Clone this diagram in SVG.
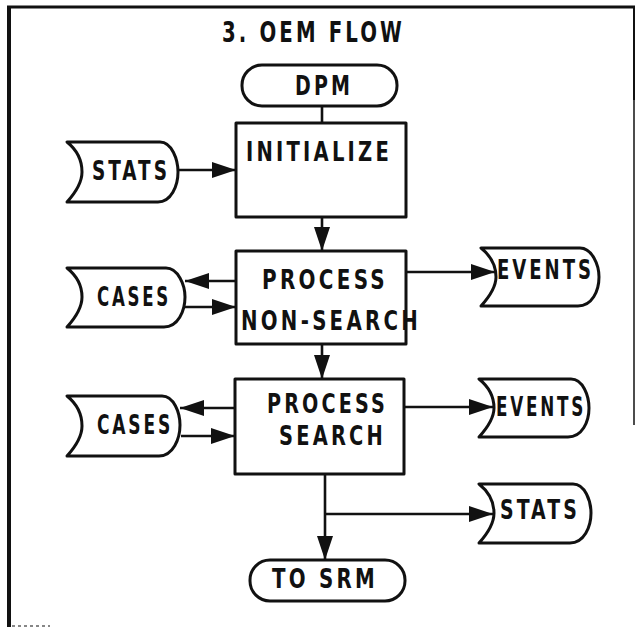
<svg xmlns="http://www.w3.org/2000/svg" width="636" height="628" viewBox="0 0 636 628">
  <style>
    .frame { fill: none; stroke: #111; }
    .shape { fill: #fff; stroke: #111; stroke-width: 3; stroke-linejoin: round; }
    .conn { fill: none; stroke: #111; stroke-width: 2.6; }
    .lbl { font-family: "Liberation Sans Narrow", "DejaVu Sans Condensed", "Liberation Sans", sans-serif; font-weight: bold; font-size: 27px; letter-spacing: 4px; fill: #111; }
    .title { font-size: 28px; }
  </style>
  <defs>
    <marker id="ah" viewBox="0 0 24 16" refX="24" refY="8" markerWidth="24" markerHeight="16" markerUnits="userSpaceOnUse" orient="auto">
      <path d="M0,0 L24,8 L0,16 Z" fill="#111"/>
    </marker>
  </defs>

  <rect width="636" height="628" fill="#fff"/>

  <!-- page frame -->
  <g id="frame">
    <line class="frame" x1="9" y1="6" x2="9" y2="627" stroke-width="4"/>
    <line class="frame" x1="7" y1="7" x2="635" y2="7" stroke-width="3"/>
    <line class="frame" x1="634" y1="6" x2="634" y2="100" stroke-width="2"/>
    <line class="frame" x1="634" y1="100" x2="634" y2="425" stroke="#999" stroke-width="1.5"/>
    <line class="frame" x1="12" y1="626" x2="50" y2="626" stroke="#999" stroke-width="1.2" stroke-dasharray="3 3"/>
  </g>

  <text class="lbl title" x="222" y="42" textLength="183" lengthAdjust="spacingAndGlyphs">3. OEM FLOW</text>

  <!-- connectors -->
  <g id="connectors">
    <line class="conn" x1="322" y1="106" x2="322" y2="123"/>
    <line class="conn" x1="178" y1="170" x2="236" y2="170" marker-end="url(#ah)"/>
    <line class="conn" x1="322" y1="217" x2="322" y2="251" marker-end="url(#ah)"/>
    <line class="conn" x1="236" y1="281" x2="185" y2="281" marker-end="url(#ah)"/>
    <line class="conn" x1="184" y1="307" x2="236" y2="307" marker-end="url(#ah)"/>
    <line class="conn" x1="406" y1="272" x2="495" y2="272" marker-end="url(#ah)"/>
    <line class="conn" x1="322" y1="344" x2="322" y2="379" marker-end="url(#ah)"/>
    <line class="conn" x1="235" y1="408" x2="180" y2="408" marker-end="url(#ah)"/>
    <line class="conn" x1="181" y1="436" x2="235" y2="436" marker-end="url(#ah)"/>
    <line class="conn" x1="404" y1="407" x2="493" y2="407" marker-end="url(#ah)"/>
    <line class="conn" x1="325" y1="474" x2="325" y2="560" marker-end="url(#ah)"/>
    <line class="conn" x1="325" y1="514" x2="493" y2="514" marker-end="url(#ah)"/>
  </g>

  <!-- terminals -->
  <g id="dpm">
    <rect class="shape" x="242" y="65" width="155" height="41" rx="20"/>
    <text class="lbl" x="295" y="95" textLength="58" lengthAdjust="spacingAndGlyphs">DPM</text>
  </g>
  <g id="to-srm">
    <rect class="shape" x="250" y="560" width="155" height="41" rx="20"/>
    <text class="lbl" x="272" y="588" textLength="106" lengthAdjust="spacingAndGlyphs">TO SRM</text>
  </g>

  <!-- process boxes -->
  <g id="initialize">
    <rect class="shape" x="236" y="123" width="170" height="94"/>
    <text class="lbl" x="246" y="161" textLength="146" lengthAdjust="spacingAndGlyphs">INITIALIZE</text>
  </g>
  <g id="process-non-search">
    <rect class="shape" x="236" y="251" width="170" height="93"/>
    <text class="lbl" x="262" y="289" textLength="126" lengthAdjust="spacingAndGlyphs">PROCESS</text>
    <text class="lbl" x="241" y="330" textLength="180" lengthAdjust="spacingAndGlyphs">NON-SEARCH</text>
  </g>
  <g id="process-search">
    <rect class="shape" x="235" y="379" width="169" height="95"/>
    <text class="lbl" x="267" y="413" textLength="121" lengthAdjust="spacingAndGlyphs">PROCESS</text>
    <text class="lbl" x="279" y="445" textLength="107" lengthAdjust="spacingAndGlyphs">SEARCH</text>
  </g>

  <!-- stored data files -->
  <g id="stats-in">
    <path class="shape" d="M67,142 H160 C172,142 178,160 178,172 C178,186 171,202 158,202 H67 C77,191 82,182 82,172 C82,161 77,150 67,142 Z"/>
    <text class="lbl" x="92" y="180" textLength="78" lengthAdjust="spacingAndGlyphs">STATS</text>
  </g>
  <g id="cases-non-search">
    <path class="shape" d="M67,268 H166 C178,268 185,285 185,297 C185,311 178,327 164,327 H67 C77,316 82,307 82,297 C82,286 77,276 67,268 Z"/>
    <text class="lbl" x="97" y="306" textLength="74" lengthAdjust="spacingAndGlyphs">CASES</text>
  </g>
  <g id="events-non-search">
    <path class="shape" d="M481,248 H580 C592,248 599,265 599,277 C599,291 592,306 578,306 H481 C491,295 496,286 496,277 C496,266 491,256 481,248 Z"/>
    <text class="lbl" x="497" y="279" textLength="97" lengthAdjust="spacingAndGlyphs">EVENTS</text>
  </g>
  <g id="cases-search">
    <path class="shape" d="M67,396 H162 C174,396 180,413 180,425 C180,439 173,456 159,456 H67 C77,445 82,436 82,426 C82,415 77,404 67,396 Z"/>
    <text class="lbl" x="97" y="434" textLength="76" lengthAdjust="spacingAndGlyphs">CASES</text>
  </g>
  <g id="events-search">
    <path class="shape" d="M479,379 H571 C583,379 589,396 589,408 C589,422 582,437 568,437 H479 C489,426 494,417 494,408 C494,397 489,387 479,379 Z"/>
    <text class="lbl" x="496" y="416" textLength="90" lengthAdjust="spacingAndGlyphs">EVENTS</text>
  </g>
  <g id="stats-out">
    <path class="shape" d="M479,484 H573 C585,484 591,501 591,513 C591,527 584,543 570,543 H479 C489,532 494,523 494,513 C494,502 489,492 479,484 Z"/>
    <text class="lbl" x="500" y="519" textLength="80" lengthAdjust="spacingAndGlyphs">STATS</text>
  </g>
</svg>
